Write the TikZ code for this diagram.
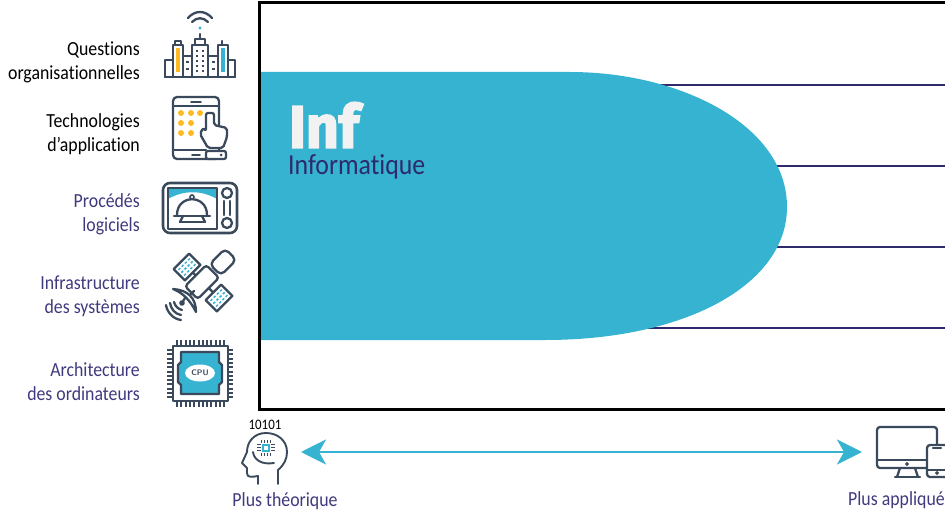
\documentclass[tikz,border=0pt]{standalone}
\usepackage{fontspec}
\setmainfont{Carlito}[FakeStretch=0.89,Ligatures=NoCommon]
\newfontfamily\inffont{Fira Sans}[BoldFeatures={FakeBold=2.6,FakeStretch=0.95}]
\usetikzlibrary{arrows.meta,shapes.geometric}
\definecolor{infteal}{HTML}{35B3D0}
\definecolor{infnavy}{HTML}{2E2A6B}
\definecolor{infviolet}{HTML}{3F3A7E}
\definecolor{iconslate}{HTML}{3A4A5C}
\definecolor{iconyellow}{HTML}{FDBB21}
\definecolor{infwhite}{HTML}{F2F2F2}
\tikzset{
  sidelabel/.style={anchor=east,align=right,font=\fontsize{20}{24}\selectfont,inner sep=0pt},
  axislabel/.style={font=\fontsize{20}{24}\selectfont,text=infviolet,inner sep=0pt},
  icon/.style={draw=iconslate,line width=2.3pt,line join=round,line cap=round},
  iconthin/.style={draw=iconslate,line width=1.6pt,line cap=round},
  level/.style={draw=infnavy,line width=2.3pt},
  bullet/.style={fill=iconyellow,draw=none},
  pane/.style={draw=infteal,line width=1.5pt,dash pattern=on 2.5pt off 2pt}
}
\begin{document}
\begin{tikzpicture}[x=1pt,y=-1pt]
  \useasboundingbox (0,0) rectangle (945,511);
  \clip (0,0) rectangle (945,511);

  \coordinate (c1) at (945,85);
  \coordinate (c2) at (945,166);
  \coordinate (c3) at (945,247);
  \coordinate (c4) at (945,328);
  \coordinate (b1) at (600,85);
  \coordinate (b2) at (700,166);
  \coordinate (b3) at (700,247);
  \coordinate (b4) at (500,328);
  \draw[level] (b1) -- (c1);
  \draw[level] (b2) -- (c2);
  \draw[level] (b3) -- (c3);
  \draw[level] (b4) -- (c4);

  \fill[infteal] (260,72) -- (570,72) .. controls (680,72) and (787,125) .. (787,207)
        .. controls (787,285) and (685,340) .. (545,340) -- (260,340) -- cycle;
  \draw[black,line width=3pt] (945,3) -- (259,3) -- (259,409) -- (945,409);

  \node[anchor=west,inner sep=0pt,text=infwhite,font=\inffont\bfseries\fontsize{60}{60}\selectfont] (inf) at (289,125) {Inf};
  \node[anchor=west,inner sep=0pt,text=infnavy,font=\fontsize{29}{30}\selectfont] (informatique) at (288,167) {Informatique};

  \node[sidelabel,text=black]     (questions) at (140,62)  {Questions\\organisationnelles};
  \node[sidelabel,text=black]     (techno)    at (140,134) {Technologies\\d’application};
  \node[sidelabel,text=infviolet] (procedes)  at (140,214) {Procédés\\logiciels};
  \node[sidelabel,text=infviolet] (infra)     at (140,296) {Infrastructure\\des systèmes};
  \node[sidelabel,text=infviolet] (archi)     at (140,382) {Architecture\\des ordinateurs};

  \node[axislabel]            (theorique) at (285,501) {Plus théorique};
  \node[axislabel,anchor=west] (applique) at (848,500) {Plus appliqué};
  \node[font=\fontsize{14.5}{14}\selectfont,text=black,inner sep=0pt] (bits) at (265,425) {10101};

  \coordinate (arrowl) at (301,452);
  \coordinate (arrowr) at (862,452);
  \draw[{Stealth[length=25pt,width=25pt,inset=7pt]}-{Stealth[length=25pt,width=25pt,inset=7pt]},infteal,line width=2.6pt] (arrowl) -- (arrowr);

  % city
  \draw[icon] (188,18) .. controls (195,10) and (205,10) .. (212,18);
  \draw[icon] (192,22) .. controls (197,17) and (203,17) .. (208,22);
  \fill[infteal] (200,28) circle (1.7);
  \fill[iconyellow] (176,48) rectangle (180,72);
  \fill[infteal] (220.5,48) rectangle (225,72);
  \draw[icon] (165,77) -- (235,77);
  \draw[icon] (173,77) -- (173,60) -- (165,60) -- (165,77);
  \draw[icon] (173,77) -- (173,45) -- (183,45) -- (183,77);
  \draw[icon] (175,45) -- (175,41) -- (181,41) -- (181,45);
  \draw[icon] (183,56) -- (192,56);
  \draw[icon] (192,77) -- (192,45) -- (208,45) -- (208,77);
  \draw[icon] (195,45) -- (195,39) -- (205,39) -- (205,45);
  \draw[icon] (200,39) -- (200,34);
  \draw[icon] (208,56) -- (218,56);
  \draw[icon] (218,77) -- (218,45) -- (228,45) -- (228,77);
  \draw[icon] (222,45) -- (222,41);
  \draw[icon] (228,60) -- (235,60) -- (235,77);
  \foreach \cx in {197,203}
    \foreach \cy in {51,56,61,66,71}
      \fill[iconslate] (\cx-1.2,\cy-1.2) rectangle (\cx+1.2,\cy+1.2);
  \foreach \cy in {62,69}{
    \fill[iconslate] (186,\cy-1) rectangle (188.5,\cy+1.5);
    \fill[iconslate] (212,\cy-1) rectangle (214.5,\cy+1.5);
  }

  % tablet
  \draw[icon,rounded corners=4pt] (173,97) rectangle (219,159);
  \draw[icon] (173,106) -- (219,106);
  \draw[icon] (173,150) -- (206,150);
  \draw[iconthin] (191,102) -- (201,102);
  \draw[iconthin] (192,155) -- (200,155);
  \foreach \cx/\cy in {181/113,191/113,200/113,181/123,191/123,181/133,191/133}
    \fill[bullet] (\cx,\cy) circle (3);
  \draw[icon,fill=white,rounded corners=2pt] (206,131) -- (206,113) -- (214,113) -- (214,125)
        -- (227,128) -- (227,137) -- (223,148) -- (208,148) -- (200,134) -- (203,128) -- cycle;
  \draw[icon,fill=white,rounded corners=2pt] (206,151) rectangle (226,159);
  \fill[iconslate] (221,155) circle (1.5);

  % oven
  \draw[icon,line width=2.6pt,rounded corners=7pt] (163,183) rectangle (237,233);
  \fill[infteal] (168,188) rectangle (217,203);
  \fill[white] (168,199) .. controls (185,190) and (200,190) .. (217,199) -- (217,204) -- (168,204) -- cycle;
  \draw[icon] (168,188) rectangle (217,229);
  \draw[icon] (177,215) .. controls (177,194) and (207,194) .. (207,215);
  \draw[icon] (174,216) -- (210,216);
  \draw[icon] (180,222) -- (205,222);
  \draw[icon] (183,216) -- (180,222) (202,216) -- (205,222);
  \draw[iconthin] (192,197) circle (2);
  \draw[icon] (227,193) circle (5) (227,223) circle (5);
  \draw[icon] (224,201) -- (224,215) (230,201) -- (230,215);

  % satellite
  \draw[icon] (187,267) -- (219,298);
  \begin{scope}[shift={(187,267)},rotate=45]
    \draw[icon,fill=white] (-11,-8) rectangle (11,8);
    \foreach \cy in {-4,0,4} \draw[pane] (-8,\cy) -- (8,\cy);
  \end{scope}
  \begin{scope}[shift={(219,298)},rotate=45]
    \draw[icon,fill=white] (-11,-8) rectangle (11,8);
    \foreach \cy in {-4,0,4} \draw[pane] (-8,\cy) -- (8,\cy);
  \end{scope}
  \begin{scope}[shift={(202,282)},rotate=45]
    \draw[icon,fill=white,rounded corners=3pt] (-15,-9) rectangle (15,9);
  \end{scope}
  \begin{scope}[shift={(223,262)},rotate=45]
    \draw[icon,fill=white,rounded corners=5pt] (-11,-8) rectangle (11,8);
  \end{scope}
  \draw[icon] (189,296) -- (194,291);
  \draw[icon,fill=white] (173,289) .. controls (188,290) and (196,298) .. (196,312)
        .. controls (190,300) and (183,293) .. (173,289) -- cycle;
  \draw[icon] (182,303) -- (185,298);
  \fill[iconslate] (182,303) circle (2.8);
  \draw[icon] (174,302) .. controls (175,306) and (178,309) .. (182,310);
  \draw[icon] (170,303) .. controls (171,309) and (175,314) .. (181,315);
  \draw[icon] (166,305) .. controls (167,312) and (173,319) .. (181,320);

  % cpu
  \foreach \px in {177,181.3,185.6,189.9,194.2,198.5,202.8,207.1,211.4,215.7,220,224.3}{
    \draw[iconthin,line cap=butt,line width=2pt] (\px,340) -- (\px,345);
    \draw[iconthin,line cap=butt,line width=2pt] (\px,402) -- (\px,407);
  }
  \foreach \py in {350,354.3,358.6,362.9,367.2,371.5,375.8,380.1,384.4,388.7,393,397.3}{
    \draw[iconthin,line cap=butt,line width=2pt] (167,\py) -- (172,\py);
    \draw[iconthin,line cap=butt,line width=2pt] (228,\py) -- (233,\py);
  }
  \draw[icon] (173,346) rectangle (228,401);
  \draw[icon,fill=infteal] (181,352) -- (219,352) -- (219,362) -- (222,365) -- (222,382) -- (219,385)
        -- (219,394) -- (181,394) -- (181,385) -- (178,382) -- (178,365) -- (181,362) -- cycle;
  \node[ellipse,fill=white,minimum width=30pt,minimum height=17pt,inner sep=0pt,
        font=\sffamily\bfseries\fontsize{8}{8}\selectfont,text=iconslate] (cpu) at (200,373) {CPU};

  % head
  \draw[icon,line width=1.9pt] (278,484) -- (278,470) .. controls (284,465) and (287,459) .. (287,452)
        .. controls (287,440) and (277,433) .. (266,433) .. controls (254,433) and (247,442) .. (247,452)
        -- (242,463) -- (247,468) -- (247,473) .. controls (247,478) and (252,477) .. (258,476) -- (258,484);
  \draw[icon,line width=1.9pt] (253,452) .. controls (254,460) and (262,465) .. (274,463);
  \fill[infteal] (262,444) rectangle (270,452);
  \fill[white] (264,446) rectangle (268,450);
  \foreach \pp in {262,265,268,271}{
    \fill[iconslate] (\pp-1,440) rectangle (\pp,443);
    \fill[iconslate] (\pp-1,453) rectangle (\pp,456);
  }
  \foreach \pp in {445,448,451}{
    \fill[iconslate] (257,\pp-1) rectangle (261,\pp);
    \fill[iconslate] (271,\pp-1) rectangle (275,\pp);
  }

  % screens
  \draw[icon,rounded corners=3pt] (877,427) rectangle (937,468);
  \draw[icon] (877,460) -- (937,460);
  \draw[iconthin] (907,464) circle (1);
  \draw[icon] (900,468) -- (897,477) (915,468) -- (918,477);
  \draw[icon] (895,477) -- (920,477);
  \draw[icon,fill=white,rounded corners=3pt] (927,445) rectangle (960,477);
  \draw[icon] (927,470) -- (945,470);
  \draw[icon] (933,448) -- (941,448);
  \draw[iconthin] (937,473) circle (1);
\end{tikzpicture}
\end{document}
